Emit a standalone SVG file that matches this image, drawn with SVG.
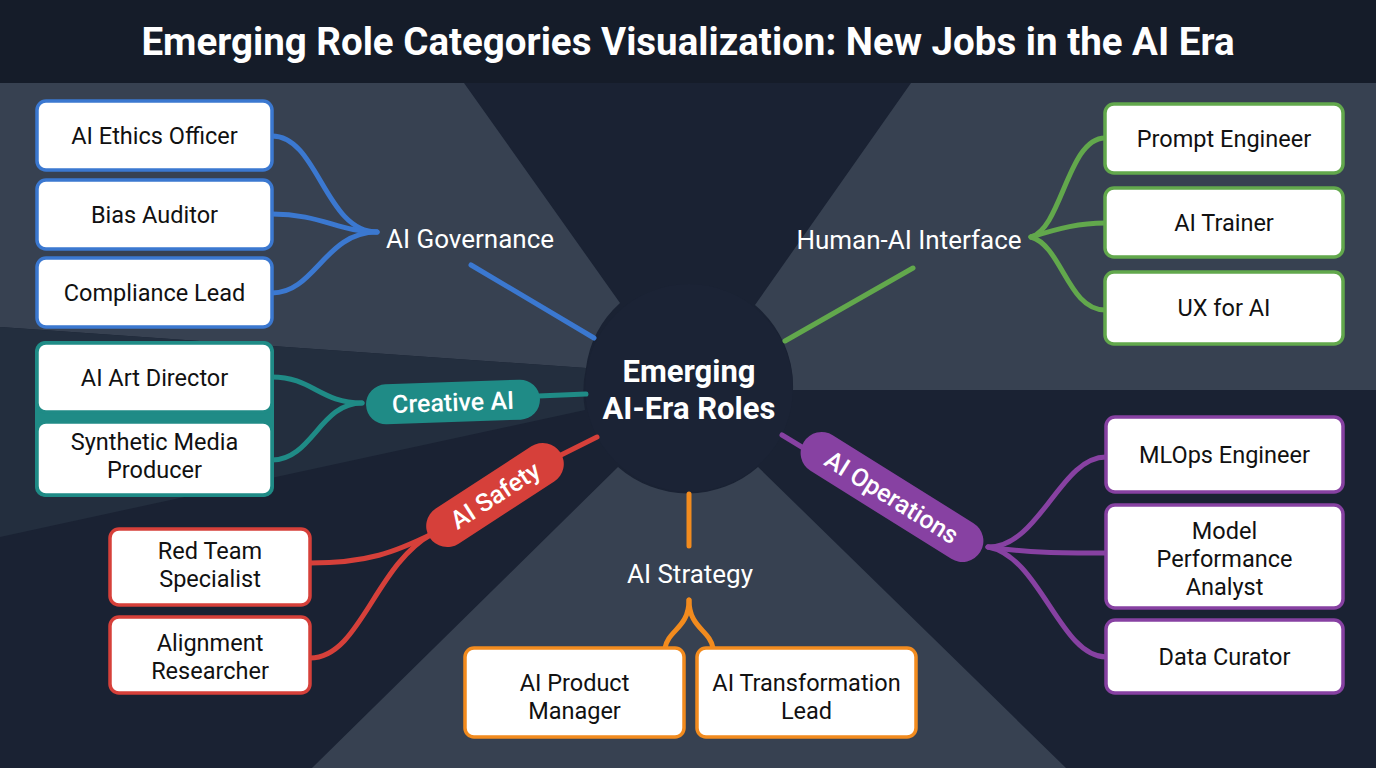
<svg xmlns="http://www.w3.org/2000/svg" width="1376" height="768" viewBox="0 0 1376 768">
<defs>
<style>
.box{fill:#ffffff;stroke-width:3.5}
.bt{font-family:Roboto,"Liberation Sans",sans-serif;font-size:23.5px;fill:#111111;text-anchor:middle}
.lab{font-family:Roboto,"Liberation Sans",sans-serif;font-size:26px;fill:#ffffff;text-anchor:middle}
.pt{font-family:Roboto,"Liberation Sans",sans-serif;font-size:25px;font-weight:500;fill:#ffffff;text-anchor:middle}
.cn{fill:none;stroke-width:5;stroke-linecap:round}
.blue{stroke:#3b78d0}.teal{stroke:#1f8b86}.red{stroke:#d6403a}.orange{stroke:#f28b1e}.green{stroke:#62a84c}.purple{stroke:#8741a2}
</style>
</defs>
<rect x="0" y="0" width="1376" height="768" fill="#1a2233"/>
<rect x="0" y="0" width="1376" height="83" fill="#151c29"/>
<g id="background">
<path d="M0,83 L464,83 L620,303 A106,106 0 0 0 586,368 L0,327 Z" fill="#374151"/>
<path d="M0,327 L586,368 A106,106 0 0 0 585,410 L0,537 Z" fill="#232e3e"/>
<path d="M911,83 L1376,83 L1376,390 L793,390 A106,106 0 0 0 755,305 Z" fill="#374151"/>
<path d="M618,467 A106,106 0 0 0 758,467 L1066,768 L312,768 Z" fill="#374151"/>
<circle cx="689" cy="388" r="104" fill="#1b2335"/>
</g>
<text x="688" y="55" font-family="Roboto,'Liberation Sans',sans-serif" font-size="38.5" font-weight="bold" fill="#ffffff" text-anchor="middle">Emerging Role Categories Visualization: New Jobs in the AI Era</text>
<g id="connectors">
<path class="cn blue" d="M272,136 C318,136 325,232 377,232"/>
<path class="cn blue" d="M272,214 C320,214 340,232 377,232"/>
<path class="cn blue" d="M272,293 C315,293 325,232 377,232"/>
<line class="cn blue" x1="471" y1="265" x2="594" y2="338" stroke-width="7"/>
<path class="cn teal" d="M272,377 C312,377 320,403 362,403"/>
<path class="cn teal" d="M272,460 C312,460 320,403 362,403"/>
<line class="cn teal" x1="538" y1="396" x2="586" y2="394" stroke-width="6"/>
<path class="cn red" d="M310,563 C368,563 395,552 432,534"/>
<path class="cn red" d="M310,658 C360,658 375,565 432,534"/>
<line class="cn red" x1="555" y1="458" x2="597" y2="437" stroke-width="6"/>
<line class="cn orange" x1="689" y1="494" x2="689" y2="546" stroke-width="7"/>
<path class="cn orange" d="M689,600 C689,628 668,630 665,648"/>
<path class="cn orange" d="M689,600 C689,628 710,630 713,648"/>
<line class="cn green" x1="785" y1="341" x2="913" y2="268" stroke-width="7"/>
<path class="cn green" d="M1031,237 C1062,228 1068,138 1105,138"/>
<path class="cn green" d="M1031,237 C1060,228 1080,223 1105,223"/>
<path class="cn green" d="M1031,237 C1062,246 1068,310 1105,310"/>
<line class="cn purple" x1="782" y1="435" x2="810" y2="452" stroke-width="6"/>
<path class="cn purple" d="M988,547 C1040,547 1060,457 1106,457"/>
<path class="cn purple" d="M988,547 C1030,553 1060,553 1106,553"/>
<path class="cn purple" d="M988,547 C1040,556 1060,657 1106,657"/>
</g>
<g id="center">
<text x="689" y="382" font-family="Roboto,'Liberation Sans',sans-serif" font-size="31" font-weight="bold" fill="#ffffff" text-anchor="middle">Emerging</text>
<text x="689" y="419" font-family="Roboto,'Liberation Sans',sans-serif" font-size="31" font-weight="bold" fill="#ffffff" text-anchor="middle">AI-Era Roles</text>
</g>
<g id="cat-governance"><text class="lab" x="470" y="248">AI Governance</text></g>
<g id="cat-human-ai"><text class="lab" x="909" y="249">Human-AI Interface</text></g>
<g id="cat-strategy"><text class="lab" x="690" y="583">AI Strategy</text></g>
<g id="cat-creative" transform="translate(453,402) rotate(-2)">
<rect x="-87" y="-20" width="174" height="40" rx="20" fill="#1f8b86"/>
<text class="pt" x="0" y="9">Creative AI</text>
</g>
<g id="cat-safety" transform="translate(495,495) rotate(-33)">
<rect x="-78" y="-21" width="156" height="42" rx="21" fill="#d6403a"/>
<text class="pt" x="0" y="9">AI Safety</text>
</g>
<g id="cat-operations" transform="translate(892,497) rotate(32)">
<rect x="-104" y="-21" width="208" height="42" rx="21" fill="#8741a2"/>
<text class="pt" x="0" y="9">AI Operations</text>
</g>
<g id="n-ethics"><rect class="box blue" x="37" y="101" width="235" height="69" rx="9"/><text class="bt" x="154.5" y="144">AI Ethics Officer</text></g>
<g id="n-bias"><rect class="box blue" x="37" y="180" width="235" height="69" rx="9"/><text class="bt" x="154.5" y="223">Bias Auditor</text></g>
<g id="n-compliance"><rect class="box blue" x="37" y="258" width="235" height="69" rx="9"/><text class="bt" x="154.5" y="301">Compliance Lead</text></g>
<g id="n-creative-group"><rect x="35" y="341" width="239" height="156" rx="10" fill="#1f8b86"/></g>
<g id="n-artdirector"><rect class="box teal" x="37" y="343" width="235" height="69" rx="9"/><text class="bt" x="154.5" y="386">AI Art Director</text></g>
<g id="n-synthetic"><rect class="box teal" x="37" y="422" width="235" height="73" rx="9"/><text class="bt" x="154.5" y="450">Synthetic Media</text><text class="bt" x="154.5" y="478">Producer</text></g>
<g id="n-redteam"><rect class="box red" x="110" y="529" width="200" height="76" rx="9"/><text class="bt" x="210" y="559">Red Team</text><text class="bt" x="210" y="587">Specialist</text></g>
<g id="n-alignment"><rect class="box red" x="110" y="617" width="200" height="76" rx="9"/><text class="bt" x="210" y="651">Alignment</text><text class="bt" x="210" y="679">Researcher</text></g>
<g id="n-product"><rect class="box orange" x="465" y="648" width="219" height="89" rx="9"/><text class="bt" x="574.5" y="691">AI Product</text><text class="bt" x="574.5" y="719">Manager</text></g>
<g id="n-transformation"><rect class="box orange" x="697" y="648" width="219" height="89" rx="9"/><text class="bt" x="806.5" y="691">AI Transformation</text><text class="bt" x="806.5" y="719">Lead</text></g>
<g id="n-prompt"><rect class="box green" x="1105" y="104" width="238" height="69" rx="9"/><text class="bt" x="1224" y="147">Prompt Engineer</text></g>
<g id="n-trainer"><rect class="box green" x="1105" y="188" width="238" height="69" rx="9"/><text class="bt" x="1224" y="231">AI Trainer</text></g>
<g id="n-ux"><rect class="box green" x="1105" y="272" width="238" height="72" rx="9"/><text class="bt" x="1224" y="316">UX for AI</text></g>
<g id="n-mlops"><rect class="box purple" x="1106" y="417" width="237" height="75" rx="9"/><text class="bt" x="1224.5" y="463">MLOps Engineer</text></g>
<g id="n-modelperf"><rect class="box purple" x="1106" y="505" width="237" height="103" rx="9"/><text class="bt" x="1224.5" y="539">Model</text><text class="bt" x="1224.5" y="567">Performance</text><text class="bt" x="1224.5" y="595">Analyst</text></g>
<g id="n-curator"><rect class="box purple" x="1106" y="620" width="237" height="73" rx="9"/><text class="bt" x="1224.5" y="665">Data Curator</text></g>
</svg>
